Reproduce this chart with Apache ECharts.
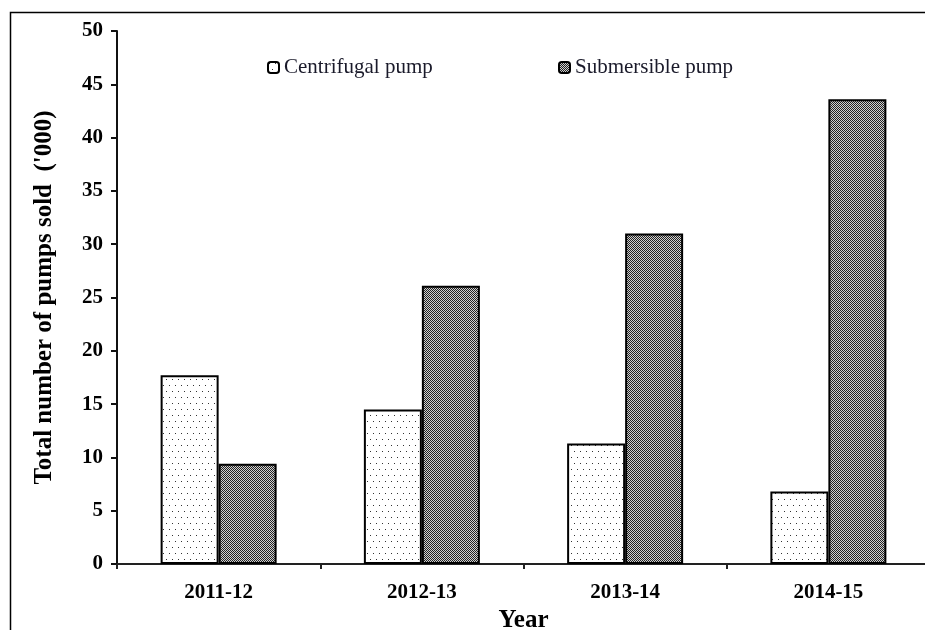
<!DOCTYPE html>
<html>
<head>
<meta charset="utf-8">
<script src="https://cdn.jsdelivr.net/npm/echarts@6/dist/echarts.min.js"></script>
<style>html,body{margin:0;padding:0;background:#fff;}#c{width:925px;height:630px;}</style>
</head>
<body>
<div id="c"></div>
<script>
const categories = ['2011-12', '2012-13', '2013-14', '2014-15'];
const centrifugal = [17.7, 14.5, 11.3, 6.8];
const submersible = [9.4, 26.1, 31.0, 43.6];
const seriesNames = ['Centrifugal pump', 'Submersible pump'];

function dotPattern() {
  const c = document.createElement('canvas');
  c.width = 6; c.height = 12;
  const g = c.getContext('2d');
  g.fillStyle = '#fff'; g.fillRect(0, 0, 6, 12);
  g.fillStyle = '#333';
  g.fillRect(1, 1, 1, 1);
  g.fillRect(4, 7, 1, 1);
  return c;
}
function checkPattern() {
  const c = document.createElement('canvas');
  c.width = 2; c.height = 2;
  const g = c.getContext('2d');
  g.fillStyle = '#d0d0d0'; g.fillRect(0, 0, 2, 2);
  g.fillStyle = '#222';
  g.fillRect(0, 0, 1, 1);
  g.fillRect(1, 1, 1, 1);
  return c;
}
const pDots = { image: dotPattern(), repeat: 'repeat' };
const pCheck = { image: checkPattern(), repeat: 'repeat' };

const serif = '"Liberation Serif", "DejaVu Serif", serif';
const chart = echarts.init(document.getElementById('c'), null, { renderer: 'canvas' });
chart.setOption({
  animation: false,
  backgroundColor: '#fff',
  graphic: [{
    type: 'rect', left: 8, top: 10, shape: { width: 940, height: 640 },
    style: { fill: 'none', stroke: '#000', lineWidth: 1.5 }, silent: true, z: -1
  }],
  legend: [{
    data: [seriesNames[0]], left: 262, top: 52, itemWidth: 11, itemHeight: 11, itemGap: 6,
    textStyle: { fontFamily: serif, fontSize: 21, color: '#1a1a2a' },
    itemStyle: { borderColor: '#000', borderWidth: 2 }
  }, {
    data: [seriesNames[1]], left: 553, top: 52, itemWidth: 11, itemHeight: 11, itemGap: 6,
    textStyle: { fontFamily: serif, fontSize: 21, color: '#1a1a2a' },
    itemStyle: { borderColor: '#000', borderWidth: 2 }
  }],
  grid: { left: 117, top: 31, right: -5, bottom: 66, containLabel: false, outerBoundsMode: 'none' },
  xAxis: {
    type: 'category', data: categories,
    name: 'Year', nameLocation: 'middle', nameGap: 44,
    nameTextStyle: { fontFamily: serif, fontSize: 25, fontWeight: 'bold', color: '#000' },
    axisLine: { lineStyle: { color: '#222', width: 2 } },
    axisTick: { show: true, length: 5, lineStyle: { color: '#222', width: 2 } },
    axisLabel: { fontFamily: serif, fontSize: 21, fontWeight: 'bold', color: '#000', margin: 18 }
  },
  yAxis: {
    type: 'value', min: 0, max: 50, interval: 5,
    name: "Total number of pumps sold  ('000)", nameLocation: 'middle', nameGap: 60,
    nameTextStyle: { fontFamily: serif, fontSize: 25, fontWeight: 'bold', color: '#000' },
    splitLine: { show: false },
    axisLine: { show: true, lineStyle: { color: '#111', width: 2 } },
    axisTick: { show: true, length: 6, lineStyle: { color: '#111', width: 2 } },
    axisLabel: { fontFamily: serif, fontSize: 21, fontWeight: 'bold', color: '#000', margin: 14 }
  },
  series: [{
    name: seriesNames[0], type: 'bar', data: centrifugal, barWidth: 58, barGap: '0%',
    itemStyle: { color: pDots, borderColor: '#000', borderWidth: 2 }
  }, {
    name: seriesNames[1], type: 'bar', data: submersible, barWidth: 58, barGap: '0%',
    itemStyle: { color: pCheck, borderColor: '#000', borderWidth: 2 }
  }]
});
</script>
</body>
</html>
